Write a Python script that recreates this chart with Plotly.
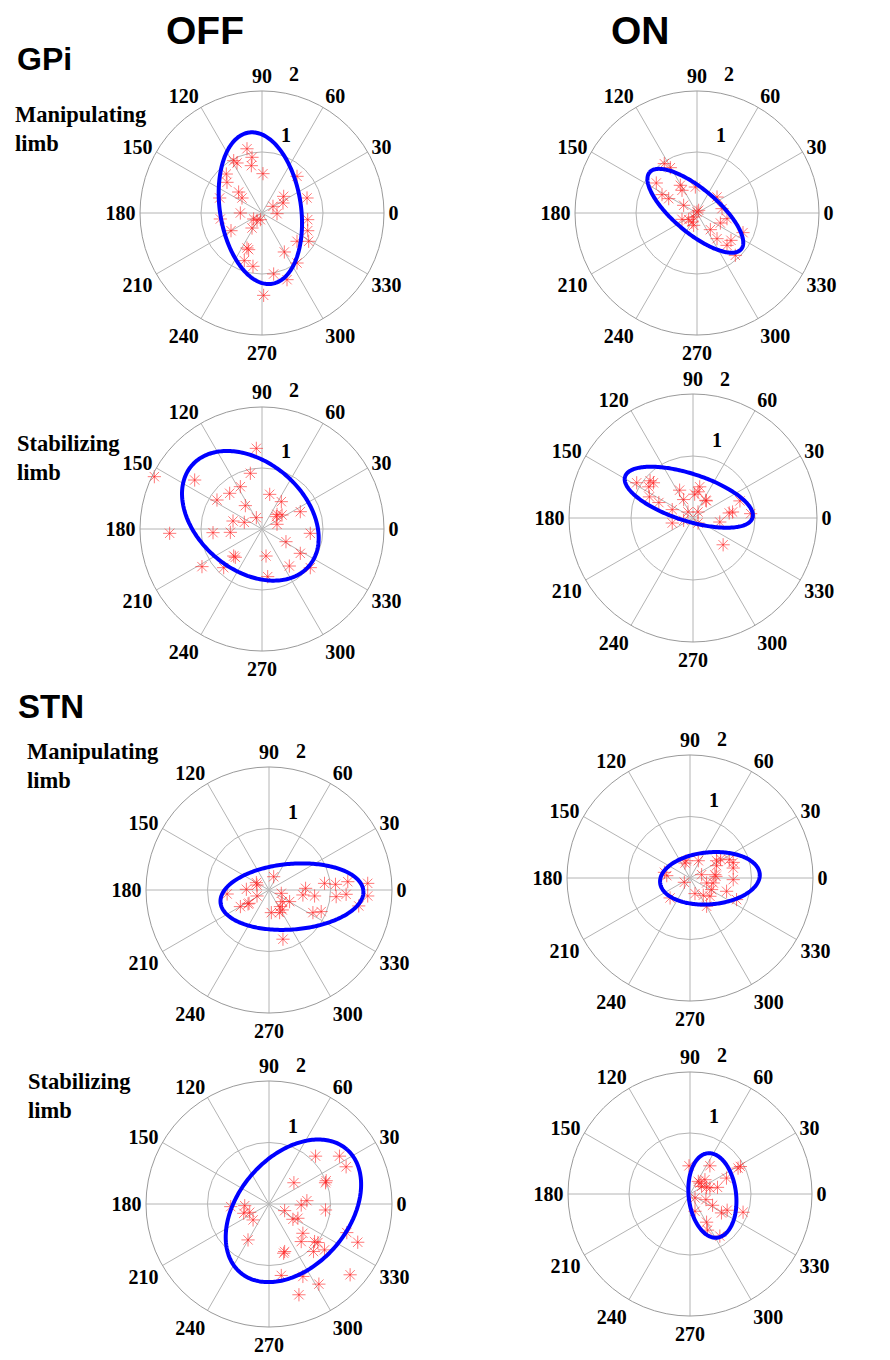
import numpy as np
import plotly.graph_objects as go

# ---------------- data (vector components in radial-axis units) ----------------
angle_ticks = [0, 30, 60, 90, 120, 150, 180, 210, 240, 270, 300, 330]
angle_labels = ["0", "30", "60", "90", "120", "150", "180", "210", "240", "270", "300", "330"]
radial_ticks = [1, 2]

gpi_off_manip_x = [-0.246, -0.164, -0.464, -0.410, -0.175, 0.016, -0.585, -0.574, 0.574, -0.383,
                   -0.328, -0.694, 0.355, 0.344, 0.738, 0.180, 0.246, -0.355, -0.683, -0.137,
                   -0.082, -0.164, -0.027, 0.749, 0.749, -0.508, 0.574, 0.765, -0.219, -0.246,
                   0.366, -0.290, -0.148, 0.574, 0.191, 0.410, 0.027]
gpi_off_manip_y = [1.053, 0.913, 0.858, 0.820, 0.776, 0.645, 0.639, 0.503, 0.601, 0.344,
                   0.246, 0.246, 0.273, 0.164, 0.246, 0.109, -0.011, 0.000, -0.098, -0.098,
                   -0.120, -0.246, -0.109, -0.109, -0.290, -0.290, -0.464, -0.464, -0.601, -0.574,
                   -0.639, -0.781, -0.874, -0.820, -1.000, -1.093, -1.350]
gpi_off_manip_ellipse = [-0.027, 0.079, 1.254, 0.664, 98.7]   # cx, cy, semi-major, semi-minor, tilt

gpi_on_manip_x = [-0.536, -0.437, -0.667, -0.273, -0.246, -0.027, -0.574, -0.464, -0.219, 0.328,
                  0.410, 0.000, -0.055, -0.246, -0.137, -0.055, 0.492, 0.383, 0.754, 0.219,
                  0.328, 0.557, 0.492, 0.628, -0.082, 0.027]
gpi_on_manip_y = [0.809, 0.743, 0.492, 0.454, 0.372, 0.426, 0.301, 0.235, 0.126, 0.262,
                  0.071, 0.016, -0.066, -0.104, -0.109, -0.202, -0.093, -0.164, -0.322, -0.273,
                  -0.421, -0.448, -0.530, -0.694, -0.148, 0.044]
gpi_on_manip_ellipse = [-0.027, 0.036, 0.98, 0.36, 140.0]

gpi_off_stab_x = [-0.093, -0.191, -1.765, -1.104, -0.355, -0.530, 0.126, -0.738, 0.317, -0.273,
                  0.628, 0.246, 0.235, -0.093, -0.475, -0.290, 0.246, -1.514, -0.803, -0.519,
                  0.792, 0.393, 0.628, -0.464, -0.437, 0.066, -0.984, -0.628, 0.448, 0.792,
                  0.093, 0.328]
gpi_off_stab_y = [1.322, 0.913, 0.858, 0.803, 0.694, 0.585, 0.568, 0.475, 0.448, 0.383,
                  0.284, 0.240, 0.202, 0.186, 0.131, 0.109, 0.077, -0.071, -0.060, -0.055,
                  -0.071, -0.208, -0.399, -0.443, -0.464, -0.443, -0.617, -0.634, -0.607, -0.634,
                  -0.781, 0.230]
gpi_off_stab_ellipse = [-0.191, 0.216, 1.266, 0.884, 139.4]

gpi_on_stab_x = [-0.908, -0.692, -0.638, -0.714, -0.703, -0.551, -0.216, -0.151, 0.027, 0.108,
                 0.081, 0.216, 0.205, 0.757, 0.638, 0.584, 0.930, 0.432, 0.486, -0.335,
                 -0.335, -0.151, -0.081, 0.081, 0.081]
gpi_on_stab_y = [0.568, 0.600, 0.568, 0.503, 0.341, 0.249, 0.449, 0.297, 0.384, 0.503,
                 0.422, 0.276, 0.286, 0.276, 0.097, 0.081, 0.070, -0.065, -0.432, 0.135,
                 -0.081, -0.038, 0.097, 0.097, -0.081]
gpi_on_stab_ellipse = [-0.068, 0.335, 1.08, 0.38, 162.0]

stn_off_manip_x = [0.076, -0.205, -0.195, -0.368, -0.681, -0.195, -0.324, -0.341, -0.465, 0.200,
                   0.216, 0.335, 0.184, 0.216, 0.038, 0.173, 0.595, 0.551, 0.741, 0.903,
                   1.081, 1.281, 1.605, 1.092, 1.254, 1.605, 0.714, 0.849, 1.459, 0.227]
stn_off_manip_y = [0.216, 0.119, 0.081, 0.011, -0.065, -0.097, -0.216, -0.227, -0.270, -0.054,
                   -0.189, -0.189, -0.270, -0.324, -0.368, -0.368, 0.027, -0.081, -0.097, 0.108,
                   0.092, 0.135, 0.108, -0.108, -0.070, -0.097, -0.368, -0.351, -0.259, -0.800]
stn_off_manip_ellipse = [0.373, -0.108, 1.165, 0.534, 4.7]

stn_on_manip_x = [-0.378, -0.416, -0.081, -0.065, 0.135, -0.092, 0.189, 0.432, 0.432, 0.638,
                  0.703, 0.703, 0.405, 0.422, 0.270, 0.378, 0.703, 0.351, 0.595, 0.081,
                  0.216, 0.324, 0.270, 0.757, -0.324, 0.497]
stn_on_manip_y = [0.038, 0.092, 0.243, 0.281, 0.281, -0.070, 0.054, 0.281, 0.200, 0.297,
                  0.254, 0.162, 0.054, 0.027, -0.081, -0.081, -0.027, -0.189, -0.216, -0.254,
                  -0.281, -0.297, -0.459, -0.351, -0.324, 0.308]
stn_on_manip_ellipse = [0.324, -0.005, 0.813, 0.423, 5.0]

stn_off_stab_x = [0.757, 1.146, 1.254, 0.930, 0.919, 0.405, 0.616, 0.524, 0.919, 0.254,
                  0.389, 0.470, -0.395, -0.411, -0.314, -0.259, -0.622, -0.341, 0.551, 0.524,
                  0.741, 0.795, 0.724, 0.903, 0.254, 0.238, 1.265, 1.443, 0.200, 0.551,
                  0.811, 1.319, 0.487]
stn_off_stab_y = [0.778, 0.778, 0.605, 0.378, 0.346, 0.346, 0.054, -0.016, -0.097, -0.108,
                  -0.249, -0.232, -0.027, -0.151, -0.135, -0.259, -0.043, -0.584, -0.476, -0.611,
                  -0.611, -0.627, -0.773, -0.746, -0.773, -0.800, -0.465, -0.622, -1.162, -1.178,
                  -1.303, -1.151, -1.476]
stn_off_stab_ellipse = [0.397, -0.111, 1.324, 0.896, 49.0]

stn_on_stab_x = [-0.016, 0.326, 0.788, 0.826, 0.598, 0.136, 0.245, 0.190, 0.326, 0.451,
                 0.272, 0.082, 0.261, 0.370, 0.082, 0.516, 0.609, 0.870, 0.272, 0.288,
                 0.489, 0.163]
stn_on_stab_y = [0.462, 0.462, 0.424, 0.451, 0.261, 0.207, 0.234, 0.125, 0.098, 0.109,
                 0.109, -0.065, -0.092, -0.185, -0.283, -0.310, -0.266, -0.299, -0.462, -0.592,
                 -0.690, 0.179]
stn_on_stab_ellipse = [0.367, -0.024, 0.696, 0.389, 96.5]

panels = [
    (gpi_off_manip_x, gpi_off_manip_y, gpi_off_manip_ellipse),
    (gpi_on_manip_x, gpi_on_manip_y, gpi_on_manip_ellipse),
    (gpi_off_stab_x, gpi_off_stab_y, gpi_off_stab_ellipse),
    (gpi_on_stab_x, gpi_on_stab_y, gpi_on_stab_ellipse),
    (stn_off_manip_x, stn_off_manip_y, stn_off_manip_ellipse),
    (stn_on_manip_x, stn_on_manip_y, stn_on_manip_ellipse),
    (stn_off_stab_x, stn_off_stab_y, stn_off_stab_ellipse),
    (stn_on_stab_x, stn_on_stab_y, stn_on_stab_ellipse),
]

# ---------------- layout geometry (page pixels) ----------------
PAGE_OFF = 8                      # default body margin of the html page
W, H = 890 - PAGE_OFF, 1360 - PAGE_OFF
centers = [(262, 213), (697, 213), (262, 529), (693, 518),
           (269, 890), (690, 878), (269, 1204), (690, 1194)]
radii = [122, 122, 122, 124, 123, 123, 123, 122]


def fx(px):
    return (px - PAGE_OFF) / W


def fy(py):
    return 1 - (py - PAGE_OFF) / H


GRID = "#b4b4b4"
SERIF = "Liberation Serif"
SANS = "Liberation Sans"
STAR = "rgba(255,30,30,0.6)"

fig = go.Figure()
layout = dict(width=W, height=H, margin=dict(l=0, r=0, t=0, b=0),
              paper_bgcolor="white", plot_bgcolor="white", showlegend=False)
annotations = []

for i, ((px, py, ell), (cx, cy), R) in enumerate(zip(panels, centers, radii)):
    key = "polar" if i == 0 else f"polar{i+1}"
    layout[key] = dict(
        domain=dict(x=[fx(cx - R), fx(cx + R)], y=[fy(cy + R), fy(cy - R)]),
        bgcolor="white",
        angularaxis=dict(rotation=0, direction="counterclockwise", tickmode="array",
                         tickvals=angle_ticks, ticktext=angle_labels, ticks="",
                         showline=True, linecolor="#9a9a9a", linewidth=1,
                         showgrid=True, gridcolor=GRID, gridwidth=1,
                         tickfont=dict(family=SERIF, size=20, color="black", weight="bold")),
        radialaxis=dict(range=[0, 2], tickmode="array", tickvals=radial_ticks,
                        showticklabels=False, ticks="", showline=False,
                        showgrid=True, gridcolor=GRID, gridwidth=1),
    )
    xs = np.array(px)
    ys = np.array(py)
    fig.add_trace(go.Scatterpolar(
        r=np.hypot(xs, ys), theta=np.degrees(np.arctan2(ys, xs)), mode="markers", subplot=key,
        marker=dict(symbol="asterisk-open", size=11, color=STAR,
                    line=dict(color=STAR, width=1)),
        hoverinfo="skip"))
    ecx, ecy, ea, eb, et = ell
    t = np.linspace(0, 2 * np.pi, 241)
    tr = np.radians(et)
    ex = ecx + ea * np.cos(t) * np.cos(tr) - eb * np.sin(t) * np.sin(tr)
    ey = ecy + ea * np.cos(t) * np.sin(tr) + eb * np.sin(t) * np.cos(tr)
    fig.add_trace(go.Scatterpolar(
        r=np.hypot(ex, ey), theta=np.degrees(np.arctan2(ey, ex)), mode="lines", subplot=key,
        line=dict(color="#0000ff", width=4), hoverinfo="skip"))
    # radial tick labels (placed beside the rings, as in the original)
    for val, (ox, oy) in zip(radial_ticks, [(24, -78), (32, -139)]):
        annotations.append(dict(text=str(val), x=fx(cx + ox), y=fy(cy + oy),
                                xref="paper", yref="paper", showarrow=False,
                                xanchor="center", yanchor="middle",
                                font=dict(family=SERIF, size=20, color="black", weight="bold")))


def label(text, x, y, size, family, xanchor="left", yanchor="middle"):
    annotations.append(dict(text=text, x=fx(x), y=fy(y), xref="paper", yref="paper",
                            showarrow=False, xanchor=xanchor, yanchor=yanchor, align="left",
                            borderpad=0,
                            font=dict(family=family, size=size, color="black", weight="bold")))


label("OFF", 205, 8, 39, SANS, "center", "top")
label("ON", 640, 8, 39, SANS, "center", "top")
label("GPi", 16, 59, 32, SANS)
label("STN", 17, 707, 33, SANS)
label("Manipulating<br>limb", 14, 129, 22.5, SERIF)
label("Stabilizing<br>limb", 16, 458, 22.5, SERIF)
label("Manipulating<br>limb", 26, 766, 22.5, SERIF)
label("Stabilizing<br>limb", 27, 1096, 22.5, SERIF)

layout["annotations"] = annotations
fig.update_layout(**layout)
fig.write_html("out.html")
